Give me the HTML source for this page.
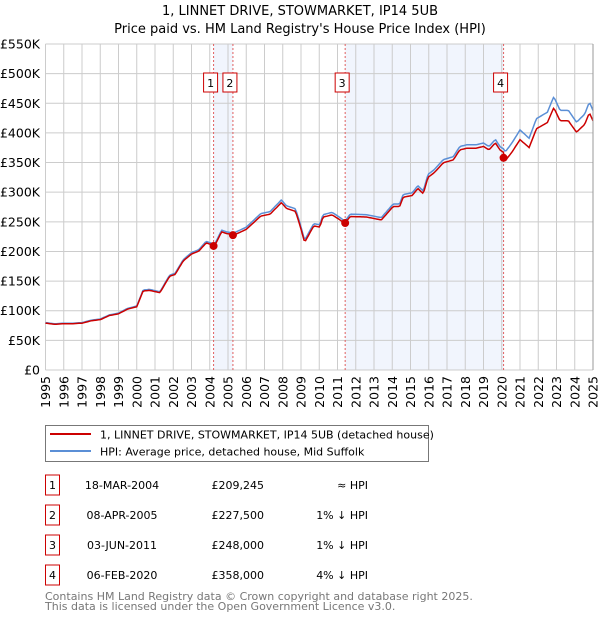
<!DOCTYPE html>
<html><head><meta charset="utf-8"><style>
body{margin:0;background:#fff;font-family:"DejaVu Sans","Liberation Sans",sans-serif;}
svg text{font-family:"DejaVu Sans","Liberation Sans",sans-serif;}
</style></head><body>
<svg id="c" width="600" height="620" viewBox="0 0 600 620" xmlns="http://www.w3.org/2000/svg">
<text x="300" y="15" text-anchor="middle" font-size="13" fill="#000">1, LINNET DRIVE, STOWMARKET, IP14 5UB</text>
<text x="300" y="33" text-anchor="middle" font-size="13" fill="#000">Price paid vs. HM Land Registry's House Price Index (HPI)</text>
<g id="shade"></g><g id="grid"></g><g id="vlines"></g><g id="series"></g><g id="axes"></g>
<g>
<rect x="45.5" y="425.5" width="383" height="36" fill="#fff" stroke="#777"/>
<line x1="50" y1="434" x2="91" y2="434" stroke="#cc0000" stroke-width="2"/>
<text x="100" y="438.5" font-size="11">1, LINNET DRIVE, STOWMARKET, IP14 5UB (detached house)</text>
<line x1="50" y1="451" x2="91" y2="451" stroke="#5b8fd6" stroke-width="2"/>
<text x="100" y="455.5" font-size="11">HPI: Average price, detached house, Mid Suffolk</text>
</g>
<g id="table" font-size="11"></g>
<text x="45" y="600" font-size="11" fill="#777">Contains HM Land Registry data © Crown copyright and database right 2025.</text>
<text x="45" y="610" font-size="11" fill="#777">This data is licensed under the Open Government Licence v3.0.</text>
</svg>
<script>
const hpiYears=[1995,1995.5,1996,1996.5,1997,1997.5,1998,1998.5,1999,1999.5,2000,2000.35,2000.7,2001.27,2001.8,2002.1,2002.54,2003,2003.4,2003.8,2004.1,2004.25,2004.65,2004.93,2005.3,2006,2006.8,2007.3,2007.93,2008.2,2008.7,2008.95,2009.2,2009.7,2010.03,2010.2,2010.7,2011.15,2011.4,2011.7,2012.6,2013.4,2014.05,2014.4,2014.6,2015.1,2015.4,2015.7,2015.96,2016.3,2016.8,2017.35,2017.7,2018.1,2018.6,2019,2019.3,2019.65,2019.9,2020.1,2020.2,2020.6,2021,2021.5,2021.9,2022.5,2022.85,2023.2,2023.65,2024.1,2024.55,2024.8,2025];
const hpiValues=[80,78,79,79,80,84,86,93,96,104,108,135,136,132,160,163,186,198,203,217,214,211,236,233,231,241,264,267,287,277,272,247,219,247,245,262,266,257,251,263,262,257,280,280,296,299,311,302,330,338,355,360,377,380,380,383,377,389,377,373,368,385,405,391,424,435,461,438,438,418,432,452,438];
const saleLabels=["1","2","3","4"];
const saleYears=[2004.21,2005.27,2011.42,2020.1];
const salePrices=[209245,227500,248000,358000];
const saleDates=["18-MAR-2004","08-APR-2005","03-JUN-2011","06-FEB-2020"];
const saleDiffs=["≈ HPI","1% ↓ HPI","1% ↓ HPI","4% ↓ HPI"];
const yTicks=[0,50,100,150,200,250,300,350,400,450,500,550];
const yTickLabels=["£0","£50K","£100K","£150K","£200K","£250K","£300K","£350K","£400K","£450K","£500K","£550K"];
const xTicks=[1995,1996,1997,1998,1999,2000,2001,2002,2003,2004,2005,2006,2007,2008,2009,2010,2011,2012,2013,2014,2015,2016,2017,2018,2019,2020,2021,2022,2023,2024,2025];

const NS="http://www.w3.org/2000/svg";
const X0=45.5,X1=593,Y0=370,Y1=44;
const sx=y=>X0+(y-1995)/30*(X1-X0);
const sy=v=>Y0-v/550*(Y0-Y1);
function mk(tag,attrs,parent){const e=document.createElementNS(NS,tag);for(const k in attrs)e.setAttribute(k,attrs[k]);parent.appendChild(e);return e;}
function hpiAt(t){if(t<=hpiYears[0])return hpiValues[0];for(let i=1;i<hpiYears.length;i++){if(t<=hpiYears[i]){const f=(t-hpiYears[i-1])/(hpiYears[i]-hpiYears[i-1]);return hpiValues[i-1]+f*(hpiValues[i]-hpiValues[i-1]);}}return hpiValues[hpiValues.length-1];}
const shade=document.getElementById('shade'),grid=document.getElementById('grid'),vl=document.getElementById('vlines'),ser=document.getElementById('series'),ax=document.getElementById('axes'),tb=document.getElementById('table');
[[0,1],[2,3]].forEach(p=>{const r=mk('rect',{x:sx(saleYears[p[0]]),y:Y1,width:sx(saleYears[p[1]])-sx(saleYears[p[0]]),height:Y0-Y1,fill:'#eef2fc',opacity:0.8},shade);

});
yTicks.forEach((v,i)=>{const l=mk('line',{x1:X0,x2:X1,y1:sy(v),y2:sy(v),stroke:'#ccc','stroke-width':1},grid);


const t=mk('text',{x:40,y:sy(v)+4.5,'text-anchor':'end','font-size':'12.5'},ax);t.textContent=yTickLabels[i];

});
xTicks.forEach(y=>{const l=mk('line',{x1:sx(y),x2:sx(y),y1:Y1,y2:Y0,stroke:'#ccc','stroke-width':1},grid);


const t=mk('text',{x:0,y:0,'text-anchor':'end','font-size':'12.5',transform:`translate(${sx(y)+4.5},${Y0+6}) rotate(-90)`},ax);t.textContent=y;

});
mk('line',{x1:X1,x2:X1,y1:Y1,y2:Y0,stroke:'#999'},ax);
saleYears.forEach((y,i)=>{const l=mk('line',{x1:sx(y),x2:sx(y),y1:Y1,y2:Y0,stroke:'#e06060','stroke-width':1,'stroke-dasharray':'2,2'},vl);


const g=mk('g',{},vl);


const bx=sx(y)-3;
mk('rect',{x:bx-7,y:73,width:14,height:19,fill:'#fff',stroke:'#cc0000'},g);
const t=mk('text',{x:bx,y:87,'text-anchor':'middle','font-size':'11'},g);t.textContent=saleLabels[i];});
let d='';for(let t=1995;t<=2025.001;t+=1/12){d+=(d?'L':'M')+sx(t).toFixed(1)+','+sy(hpiAt(t)).toFixed(1);}
const hp=mk('path',{d:d,fill:'none',stroke:'#5b8fd6','stroke-width':1.5},ser);


const ratios=saleYears.map((y,i)=>salePrices[i]/1000/hpiAt(y));
let d2='';for(let t=1995;t<=2025.001;t+=1/12){let k=0;for(let i=0;i<saleYears.length;i++)if(t>=saleYears[i])k=i;d2+=(d2?'L':'M')+sx(t).toFixed(1)+','+sy(hpiAt(t)*ratios[k]).toFixed(1);}
const pp=mk('path',{d:d2,fill:'none',stroke:'#cc0000','stroke-width':1.5},ser);


saleYears.forEach((y,i)=>{const c=mk('circle',{cx:sx(y),cy:sy(salePrices[i]/1000),r:4,fill:'#cc0000'},ser);

});
saleLabels.forEach((s,i)=>{const cy=485+i*30;const g=mk('g',{},tb);


mk('rect',{x:45.5,y:cy-10,width:14,height:20,fill:'#fff',stroke:'#cc0000'},g);
let t=mk('text',{x:52.5,y:cy+4,'text-anchor':'middle'},g);t.textContent=s;
t=mk('text',{x:122,y:cy+4,'text-anchor':'middle'},g);t.textContent=saleDates[i];
t=mk('text',{x:264,y:cy+4,'text-anchor':'end'},g);t.textContent='£'+salePrices[i].toLocaleString('en-GB');
t=mk('text',{x:368,y:cy+4,'text-anchor':'end'},g);t.textContent=saleDiffs[i];});
</script>
</body></html>
